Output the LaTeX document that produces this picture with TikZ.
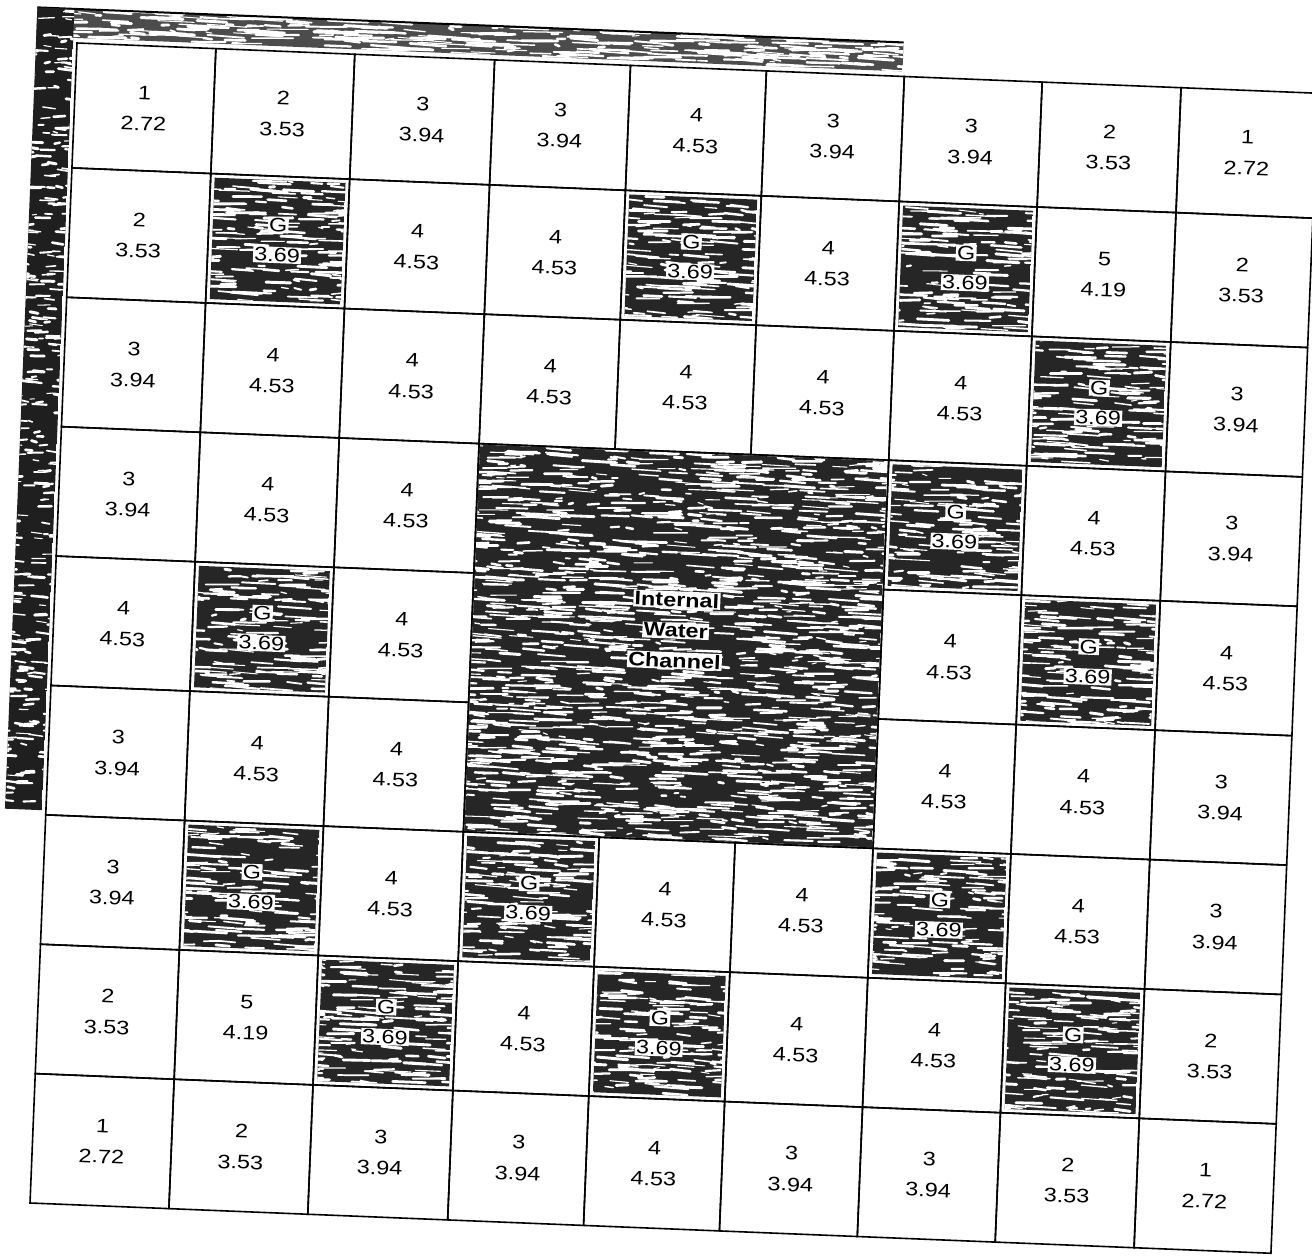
\documentclass[tikz,border=0pt]{standalone}
\usepackage{fontspec}
\setmainfont{Liberation Sans}[FakeStretch=1.2]
\tikzset{
  gridline/.style={line width=1.6pt, line join=miter},
  celltext/.style={font=\fontsize{19.5}{31}\selectfont, align=center, inner sep=0pt},
  gtext/.style={font=\fontsize{19.5}{22}\selectfont, fill=white, inner sep=1.2pt},
  chtext/.style={font=\bfseries\fontsize{19.5}{22}\selectfont, fill=white, inner sep=1.2pt},
}
\def\cb{{0,139,278,418,554,690,828,966,1105,1242}}
\def\rb{{0,125,254.5,384,513.5,643,772.5,902,1031.5,1161}}
% u1 v1 u2 v2 count base maxlen
\newcommand\scannoise[7]{%
  \begin{scope}
    \clip ({#1},{#2}) rectangle ({#3},{#4});
    \fill[black!#6] ({#1},{#2}) rectangle ({#3},{#4});
    \foreach \k in {1,...,#5}{
      \pgfmathsetmacro\sxa{(#1)-25+rnd*((#3)-(#1)+25)}
      \pgfmathsetmacro\sya{(#2)+rnd*((#4)-(#2))}
      \pgfmathsetmacro\slen{4+rnd*(#7)}
      \pgfmathsetmacro\swid{1.0+rnd*2.0}
      \pgfmathsetmacro\sdy{rnd*3-1.5}
      \draw[white,line width=\swid pt,line cap=round] (\sxa,\sya) -- ++(\slen,\sdy);
    }
  \end{scope}}
\newcommand\cellcoords[2]{%
  \pgfmathsetmacro\ua{\cb[#2-1]}\pgfmathsetmacro\ub{\cb[#2]}%
  \pgfmathsetmacro\va{\rb[#1-1]}\pgfmathsetmacro\vb{\rb[#1]}%
  \pgfmathsetmacro\cu{(\ua+\ub)/2}\pgfmathsetmacro\cv{(\va+\vb)/2}}
\newcommand\cellbox[3]{%
  \cellcoords{#1}{#2}%
  \draw[gridline] (\ua,\va) rectangle (\ub,\vb);
  \node[celltext] (c-#1-#2) at (\cu,\cv) {#3};}
\newcommand\gcell[2]{%
  \cellcoords{#1}{#2}%
  \scannoise{\ua+4}{\va+4}{\ub-4}{\vb-4}{150}{85}{30}
  \draw[gridline] (\ua,\va) rectangle (\ub,\vb);
  \node[gtext] (g-#1-#2) at (\cu,\cv-16) {G};
  \node[gtext] (h-#1-#2) at (\cu,\cv+14) {3.69};}
\begin{document}
\begin{tikzpicture}[x=1pt,y=-1pt]
\path[use as bounding box, fill=white] (0,0) rectangle (1312,1258);
\clip (0,0) rectangle (1312,1258);
\pgfmathsetseed{42}
\begin{scope}[shift={(77,43)}, rotate=-2.32, transform shape]
  % scan edge strips
  \scannoise{-41}{-34}{826}{-5}{300}{70}{40}
  \draw[line width=2pt] (-41,-34) -- (826,-34);
  \scannoise{-41}{-34}{-4}{768}{380}{88}{12}
  % internal water channel
  \scannoise{419}{385}{827}{771.5}{1500}{85}{30}
  \draw[gridline] (418,384) rectangle (828,772.5);
  \node[chtext] (ch1) at (622,532) {Internal};
  \node[chtext] (ch2) at (622,563) {Water};
  \node[chtext] (ch3) at (622,593) {Channel};
  % row 1
  \cellbox{1}{1}{1\\2.72}\cellbox{1}{2}{2\\3.53}\cellbox{1}{3}{3\\3.94}
  \cellbox{1}{4}{3\\3.94}\cellbox{1}{5}{4\\4.53}\cellbox{1}{6}{3\\3.94}
  \cellbox{1}{7}{3\\3.94}\cellbox{1}{8}{2\\3.53}\cellbox{1}{9}{1\\2.72}
  % row 2
  \cellbox{2}{1}{2\\3.53}\gcell{2}{2}\cellbox{2}{3}{4\\4.53}
  \cellbox{2}{4}{4\\4.53}\gcell{2}{5}\cellbox{2}{6}{4\\4.53}
  \gcell{2}{7}\cellbox{2}{8}{5\\4.19}\cellbox{2}{9}{2\\3.53}
  % row 3
  \cellbox{3}{1}{3\\3.94}\cellbox{3}{2}{4\\4.53}\cellbox{3}{3}{4\\4.53}
  \cellbox{3}{4}{4\\4.53}\cellbox{3}{5}{4\\4.53}\cellbox{3}{6}{4\\4.53}
  \cellbox{3}{7}{4\\4.53}\gcell{3}{8}\cellbox{3}{9}{3\\3.94}
  % row 4
  \cellbox{4}{1}{3\\3.94}\cellbox{4}{2}{4\\4.53}\cellbox{4}{3}{4\\4.53}
  \gcell{4}{7}\cellbox{4}{8}{4\\4.53}\cellbox{4}{9}{3\\3.94}
  % row 5
  \cellbox{5}{1}{4\\4.53}\gcell{5}{2}\cellbox{5}{3}{4\\4.53}
  \cellbox{5}{7}{4\\4.53}\gcell{5}{8}\cellbox{5}{9}{4\\4.53}
  % row 6
  \cellbox{6}{1}{3\\3.94}\cellbox{6}{2}{4\\4.53}\cellbox{6}{3}{4\\4.53}
  \cellbox{6}{7}{4\\4.53}\cellbox{6}{8}{4\\4.53}\cellbox{6}{9}{3\\3.94}
  % row 7
  \cellbox{7}{1}{3\\3.94}\gcell{7}{2}\cellbox{7}{3}{4\\4.53}
  \gcell{7}{4}\cellbox{7}{5}{4\\4.53}\cellbox{7}{6}{4\\4.53}
  \gcell{7}{7}\cellbox{7}{8}{4\\4.53}\cellbox{7}{9}{3\\3.94}
  % row 8
  \cellbox{8}{1}{2\\3.53}\cellbox{8}{2}{5\\4.19}\gcell{8}{3}
  \cellbox{8}{4}{4\\4.53}\gcell{8}{5}\cellbox{8}{6}{4\\4.53}
  \cellbox{8}{7}{4\\4.53}\gcell{8}{8}\cellbox{8}{9}{2\\3.53}
  % row 9
  \cellbox{9}{1}{1\\2.72}\cellbox{9}{2}{2\\3.53}\cellbox{9}{3}{3\\3.94}
  \cellbox{9}{4}{3\\3.94}\cellbox{9}{5}{4\\4.53}\cellbox{9}{6}{3\\3.94}
  \cellbox{9}{7}{3\\3.94}\cellbox{9}{8}{2\\3.53}\cellbox{9}{9}{1\\2.72}
\end{scope}
\end{tikzpicture}
\end{document}
